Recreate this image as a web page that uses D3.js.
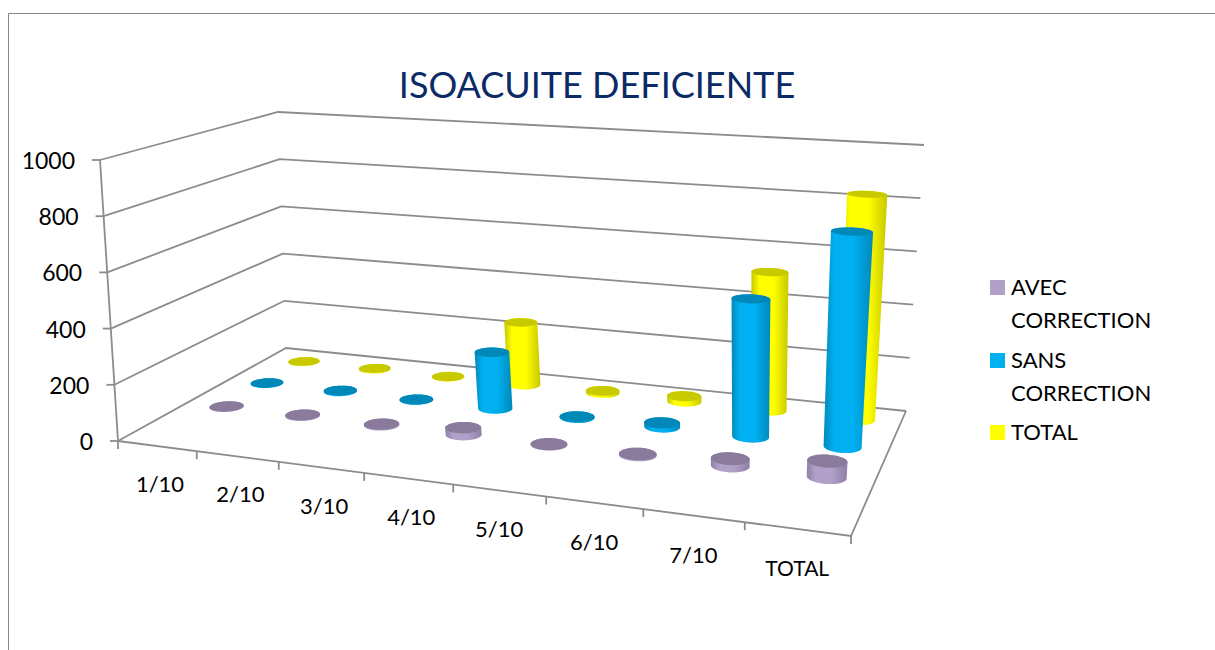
<!DOCTYPE html>
<html><head><meta charset="utf-8">
<script src="https://cdn.jsdelivr.net/npm/d3@7"></script>
<style>html,body{margin:0;padding:0;background:#fff}svg{display:block}text{font-family:Lato,"Open Sans",sans-serif}</style>
</head><body><svg id="c" width="1215" height="650"></svg>
<script>
const categories = ["1/10","2/10","3/10","4/10","5/10","6/10","7/10","TOTAL"];
const seriesNames = ["AVEC CORRECTION","SANS CORRECTION","TOTAL"];
const avecCorrection = [1,3,3,25,2,4,25,55];
const sansCorrection = [1,3,1,212,3,15,497,765];
const totalValues = [1,3,1,245,8,20,520,835];
const seriesValues = [avecCorrection,sansCorrection,totalValues];
const yTicks = [0,200,400,600,800,1000];
const bodyColors = ["#b1a0c7","#00b0f0","#ffff00"];
const bodyDark = ["#8f7fa6","#0089bb","#c8c800"];
const topColors = ["#8a7a9c","#0089b8","#c9c900"];

// projective frame of the 3D box
const floorQuad = [[118,441],[851,536],[906,411],[286,348]]; // (u,v): (0,0),(1,0),(1,1),(0,1)
const topQuad   = [[100,160],[871,219],[924,145],[278,112]];
function homography(q){
  const [[x0,y0],[x1,y1],[x2,y2],[x3,y3]] = q;
  const dx1=x1-x2,dx2=x3-x2,sx=x0-x1+x2-x3,dy1=y1-y2,dy2=y3-y2,sy=y0-y1+y2-y3;
  const den=dx1*dy2-dx2*dy1;
  const g=(sx*dy2-dx2*sy)/den,h=(dx1*sy-sx*dy1)/den;
  const a=x1-x0+g*x1,b=x3-x0+h*x3,d=y1-y0+g*y1,e=y3-y0+h*y3;
  return (u,v)=>{const w=g*u+h*v+1;return [(a*u+b*v+x0)/w,(d*u+e*v+y0)/w];};
}
const floorH = homography(floorQuad), topH = homography(topQuad);
const frontPad = -1;
const uScale = d3.scaleLinear().domain([0,categories.length]).range([0,1]);
const vScale = d3.scaleLinear().domain([frontPad,seriesNames.length]).range([0,1]);
const hScale = d3.scaleLinear().domain([0,1000]).range([0,1]);
function project(cat,row,val){
  const u=uScale(cat),v=vScale(row),t=hScale(val);
  const a=floorH(u,v),b=topH(u,v);
  return [a[0]+(b[0]-a[0])*t,a[1]+(b[1]-a[1])*t];
}
const svg = d3.select("#c");
const gridColor="#8c8c8c";
const frame = svg.append("g").attr("fill","none").attr("stroke","#868686").attr("stroke-width",1);
frame.append("path").attr("d","M8.5,650V13.5H1215");

// gradients
const defs = svg.append("defs");
seriesNames.forEach((s,i)=>{
  const g=defs.append("linearGradient").attr("id","g"+i).attr("x1","0").attr("x2","1").attr("y1","0").attr("y2","0");
  [[0,bodyDark[i]],[.22,bodyColors[i]],[.6,bodyColors[i]],[1,bodyDark[i]]].forEach(([o,c])=>g.append("stop").attr("offset",o).attr("stop-color",c));
});

// walls
const walls = svg.append("g").attr("fill","none").attr("stroke",gridColor).attr("stroke-width",1.8);
const nC=categories.length,nS=seriesNames.length;
const line=d3.line();
yTicks.forEach(t=>{
  walls.append("path").attr("d",line([project(0,frontPad,t),project(0,nS,t),project(nC,nS,t)]));
  const p=project(0,frontPad,t);
  walls.append("path").attr("d",line([[p[0]-8,p[1]],p]));
});
walls.append("path").attr("d",line([project(0,frontPad,1000),project(0,frontPad,0)]));
walls.append("path").attr("d",line([project(0,frontPad,0),project(nC,frontPad,0),project(nC,nS,0)]));
d3.range(nC+1).forEach(i=>{
  const p=project(i,frontPad,0);
  walls.append("path").attr("d",line([p,[p[0],p[1]+8]]));
});

// cylinders, back row first
const rad=0.2, ang=d3.range(0,64).map(k=>k/64*2*Math.PI);
const circle=(c,r,val)=>ang.map(a=>project(c+.52+rad*Math.cos(a),r+.5+rad*Math.sin(a),val));
const marks=svg.append("g");
d3.range(nS-1,-1,-1).forEach(r=>{
  categories.forEach((cat,c)=>{
    const v=seriesValues[r][c];
    const base=circle(c,r,0), top=circle(c,r,v);
    const hull=d3.polygonHull(base.concat(top));
    marks.append("path").attr("d",line(hull)+"Z").attr("fill",`url(#g${r})`);
    marks.append("path").attr("d",line(top)+"Z").attr("fill",topColors[r]);
  });
});

// labels
const lab=svg.append("g").attr("fill","#000").attr("font-size",23);
yTicks.forEach(t=>{
  const p=project(0,frontPad,t);
  lab.append("text").attr("x",p[0]-25).attr("y",p[1]+1).attr("dy","0.35em").attr("text-anchor","end").text(t);
});
categories.forEach((cat,i)=>{
  const p=project(i+.5,frontPad,0);
  lab.append("text").attr("x",p[0]+(i<4?3:0)).attr("y",p[1]+38+i*.3).attr("dy","0.35em").attr("text-anchor","middle").attr("font-size",i==7?21:22).text(cat);
});
svg.append("text").attr("x",597).attr("y",98).attr("text-anchor","middle").attr("font-size",36).attr("fill","#0b2a66").text("ISOACUITE DEFICIENTE");

// legend
const legendLines=[["AVEC","CORRECTION"],["SANS","CORRECTION"],["TOTAL"]];
const legendY=[287,360,432];
legendLines.forEach((ls,i)=>{
  svg.append("rect").attr("x",990).attr("y",legendY[i]-7).attr("width",15).attr("height",15).attr("fill",bodyColors[i]);
  ls.forEach((t,j)=>svg.append("text").attr("x",1011).attr("y",legendY[i]+j*33).attr("dy","0.35em").attr("font-size",22).text(t));
});
</script></body></html>
